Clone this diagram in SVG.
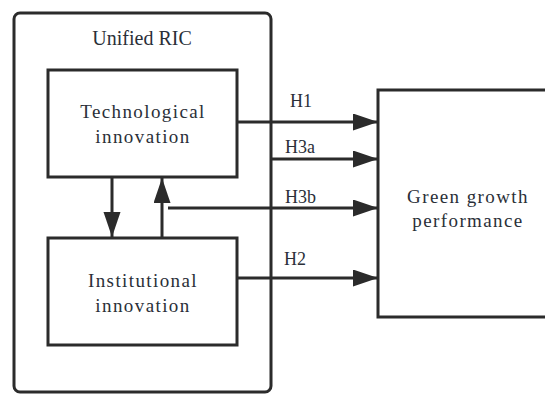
<svg xmlns="http://www.w3.org/2000/svg" width="545" height="394" viewBox="0 0 545 394">
<style>
.box{fill:#fff;stroke:#2b2b2b;stroke-width:3}
.ln{fill:none;stroke:#2b2b2b;stroke-width:3}
text{font-family:"Liberation Serif","Times New Roman",serif;fill:#2a2f38}
.t{font-size:19px;text-anchor:middle;letter-spacing:1.4px}
.h{font-size:18px}
</style>
<defs>
<marker id="ar" markerUnits="userSpaceOnUse" markerWidth="26" markerHeight="18" refX="25" refY="8.5" orient="auto">
<path d="M0,0 L25,8.5 L0,17 Z" fill="#2b2b2b"/>
</marker>
</defs>
<g id="unified">
<rect class="box" x="14" y="13" width="257" height="379" rx="6"/>
<text x="142" y="45" font-family="Liberation Serif" font-size="20" text-anchor="middle">Unified RIC</text>
</g>
<g id="tech">
<rect class="box" x="48" y="70" width="189" height="107"/>
<text class="t" x="143" y="118" font-family="Liberation Serif">Technological</text>
<text class="t" x="143" y="143" font-family="Liberation Serif">innovation</text>
</g>
<g id="inst">
<rect class="box" x="48" y="238" width="189" height="107"/>
<text class="t" x="143" y="287" font-family="Liberation Serif">Institutional</text>
<text class="t" x="143" y="312" font-family="Liberation Serif">innovation</text>
</g>
<g id="green">
<rect class="box" x="378" y="90" width="180" height="227"/>
<text class="t" x="468" y="203" font-family="Liberation Serif">Green growth</text>
<text class="t" x="468" y="227" font-family="Liberation Serif">performance</text>
</g>
<g id="connectors">
<line class="ln" x1="112" y1="177" x2="112" y2="237" marker-end="url(#ar)"/>
<line class="ln" x1="162" y1="238" x2="162" y2="178" marker-end="url(#ar)"/>
<line class="ln" x1="237" y1="122" x2="378" y2="122" marker-end="url(#ar)"/>
<line class="ln" x1="272" y1="159" x2="378" y2="159" marker-end="url(#ar)"/>
<line class="ln" x1="168" y1="208" x2="378" y2="208" marker-end="url(#ar)"/>
<line class="ln" x1="237" y1="278" x2="378" y2="278" marker-end="url(#ar)"/>
<text class="h" x="290" y="107" font-family="Liberation Serif">H1</text>
<text class="h" x="285" y="153" font-family="Liberation Serif">H3a</text>
<text class="h" x="285" y="203" font-family="Liberation Serif">H3b</text>
<text class="h" x="284" y="265" font-family="Liberation Serif">H2</text>
</g>
</svg>
